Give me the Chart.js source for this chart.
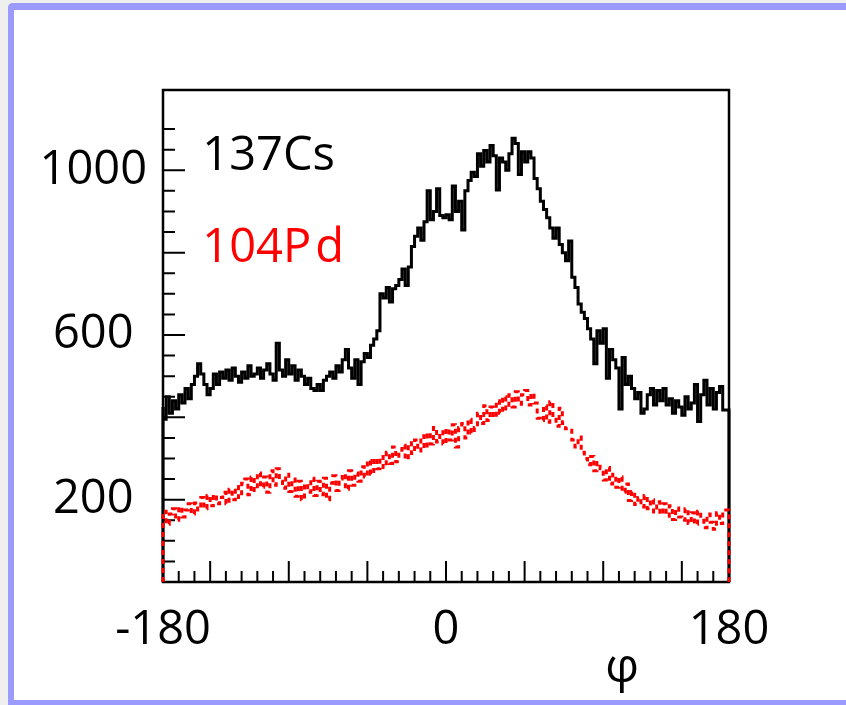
<!DOCTYPE html>
<html>
<head>
<meta charset="utf-8">
<script src="https://cdn.jsdelivr.net/npm/chart.js@4.4.1/dist/chart.umd.min.js"></script>
<style>
  html, body { margin: 0; padding: 0; }
  body { width: 846px; height: 705px; background: #efefef; position: relative; overflow: hidden; }
  #frame {
    position: absolute; left: 8px; top: 3px; width: 900px; height: 690px;
    background: #fff;
    border-left: 6px solid #9a9aff; border-top: 7px solid #9a9aff; border-bottom: 5px solid #9a9aff;
    border-top-left-radius: 5px;
  }
  #myChart { position: absolute; left: 0; top: 0; }
</style>
</head>
<body>
<div id="frame"></div>
<canvas id="myChart" width="846" height="705"></canvas>
<script>
// histogram binning of phi (degrees)
const binLow = -180;
const binWidth = 2;

// 137Cs counts per 2 degree bin, -180 .. 180
const cs137 = [
  425, 395, 450, 410, 440, 420, 455, 435, 470, 445,
  480, 500, 530, 505, 480, 455, 470, 505, 480, 510,
  495, 515, 490, 520, 500, 485, 510, 495, 525, 500,
  505, 520, 495, 515, 530, 505, 490, 580, 515, 500,
  540, 505, 525, 490, 515, 500, 480, 495, 470, 465,
  480, 465, 490, 500, 510, 495, 525, 510, 540, 565,
  520, 495, 540, 480, 535, 555, 545, 575, 590, 610,
  700, 690, 715, 680, 712, 720, 735, 760, 720, 765,
  815, 840, 860, 830, 875, 950, 880, 900, 955, 890,
  885, 892, 880, 962, 900, 925, 855, 950, 975, 995,
  985, 1040, 1010, 1048, 1020, 1060, 1035, 952, 1030, 1020,
  1000, 1040, 1078, 1065, 990, 1045, 1020, 1045, 1030, 980,
  955, 925, 905, 885, 860, 835, 860, 820, 800, 780,
  828, 740, 715, 675, 655, 640, 615, 590, 530, 610,
  580, 615, 495, 565, 540, 520, 420, 545, 480, 500,
  470, 445, 460, 410, 420, 455, 470, 430, 465, 440,
  470, 430, 445, 410, 440, 425, 405, 450, 420, 435,
  480, 390, 455, 490, 430, 470, 420, 460, 475, 418
];

// 104Pd counts per 2 degree bin, -180 .. 180
const pd104 = [
  150, 172, 140, 165, 178, 150, 182, 158, 175, 190,
  165, 192, 175, 205, 178, 210, 185, 212, 190, 205,
  218, 190, 225, 200, 232, 205, 240, 250, 212, 255,
  222, 265, 230, 255, 218, 270, 235, 275, 245, 228,
  262, 220, 250, 208, 245, 200, 238, 218, 252, 210,
  245, 212, 252, 200, 240, 258, 222, 250, 262, 225,
  270, 235, 265, 245, 280, 255, 295, 262, 300, 275,
  305, 278, 315, 288, 328, 292, 320, 332, 298, 338,
  312, 345, 318, 355, 325, 362, 335, 375, 340, 365,
  335, 372, 345, 382, 328, 375, 385, 350, 395, 362,
  375, 410, 385, 428, 392, 425, 400, 440, 410, 450,
  420, 455, 425, 462, 432, 455, 465, 430, 458, 435,
  398, 392, 428, 388, 438, 400, 378, 422, 385, 372,
  372, 345, 328, 352, 315, 300, 285, 305, 270, 290,
  275, 248, 278, 238, 262, 230, 255, 218, 238, 198,
  220, 188, 205, 182, 210, 178, 200, 170, 195, 165,
  190, 160, 185, 152, 180, 158, 150, 178, 142, 168,
  140, 172, 150, 132, 165, 145, 128, 168, 142, 175
];

// axis setup
const xMin = -180, xMax = 180;
const yMin = 0, yMax = 1195;
const xTickLabels = [-180, 0, 180];
const xMajorTicks = [-150, -100, -50, 0, 50, 100, 150];
const yTickLabels = [200, 600, 1000];

const labelFont = { family: 'Open Sans', size: 47 };

//Turns bin contents into a step outline that starts and ends on zero like a ROOT histogram
function histPoints(counts) {
  let pts = [{ x: binLow, y: 0 }];
  counts.forEach((c, i) => pts.push({ x: binLow + i * binWidth, y: c }));
  pts.push({ x: binLow + counts.length * binWidth, y: counts[counts.length - 1] });
  pts.push({ x: binLow + counts.length * binWidth, y: 0 });
  return pts;
}

//Draws the frame, inner ticks and the text labels
const decor = {
  id: 'decor',
  beforeDatasetsDraw(chart) {
    const { ctx, chartArea: a, scales: { x, y } } = chart;
    ctx.save();
    ctx.strokeStyle = '#000';
    ctx.lineWidth = 2;
    ctx.beginPath();
    x.ticks.forEach(t => {
      if (t.value <= xMin || t.value >= xMax) return;
      const px = x.getPixelForValue(t.value);
      const len = xMajorTicks.includes(t.value) ? 21 : 11;
      ctx.moveTo(px, a.bottom);
      ctx.lineTo(px, a.bottom - len);
    });
    y.ticks.forEach(t => {
      if (t.value <= yMin || t.value >= yMax || t.value % 50 !== 0) return;
      const py = y.getPixelForValue(t.value);
      const len = t.value % 200 === 0 ? 22 : 12;
      ctx.moveTo(a.left, py);
      ctx.lineTo(a.left + len, py);
    });
    ctx.stroke();
    ctx.lineWidth = 2.5;
    ctx.strokeRect(a.left, a.top, a.right - a.left, a.bottom - a.top);
    ctx.restore();
  },
  afterDraw(chart) {
    const { ctx, scales: { x, y } } = chart;
    ctx.save();
    ctx.font = '47px "Open Sans"';
    ctx.textBaseline = 'alphabetic';
    ctx.textAlign = 'left';
    ctx.fillStyle = '#000';
    ctx.fillText('137Cs', x.getPixelForValue(-155), y.getPixelForValue(1000));
    ctx.fillStyle = '#ff0000';
    ctx.fillText('104P', x.getPixelForValue(-155), y.getPixelForValue(777));
    ctx.fillText('d', x.getPixelForValue(-155) + 113, y.getPixelForValue(777));
    ctx.fillStyle = '#000';
    ctx.textAlign = 'center';
    ctx.fillText('φ', x.getPixelForValue(112), 682);
    ctx.restore();
  }
};

var ctx = document.getElementById('myChart').getContext('2d');
var myChart = new Chart(ctx, {
  type: 'line',
  data: {
    datasets: [{
      label: '104Pd',
      data: histPoints(pd104),
      borderColor: '#ff0000',
      borderWidth: 3,
      borderDash: [5, 4],
      stepped: 'after',
      pointRadius: 0,
      fill: false,
      clip: false
    },
    {
      label: '137Cs',
      data: histPoints(cs137),
      borderColor: '#000000',
      borderWidth: 3,
      stepped: 'after',
      pointRadius: 0,
      fill: false,
      clip: false
    }]
  },
  options: {
    responsive: false,
    devicePixelRatio: 1,
    animation: false,
    layout: { padding: { left: 0, right: 117, top: 90, bottom: 0 } },
    plugins: { legend: { display: false }, tooltip: { enabled: false } },
    scales: {
      x: {
        type: 'linear',
        min: xMin,
        max: xMax,
        border: { display: false },
        grid: { display: false, drawTicks: false },
        afterFit: s => { s.height = 123; },
        ticks: {
          stepSize: 10,
          autoSkip: false,
          maxRotation: 0,
          padding: 20,
          color: '#000',
          font: labelFont,
          callback: v => xTickLabels.includes(v) ? String(v) : ''
        }
      },
      y: {
        type: 'linear',
        min: yMin,
        max: yMax,
        border: { display: false },
        grid: { display: false, drawTicks: false },
        afterFit: s => { s.width = 163; },
        ticks: {
          stepSize: 50,
          autoSkip: false,
          crossAlign: 'center',
          padding: 16,
          color: '#000',
          font: labelFont,
          callback: v => yTickLabels.includes(v) ? String(v) : ''
        }
      }
    }
  },
  plugins: [decor]
});
</script>
</body>
</html>
